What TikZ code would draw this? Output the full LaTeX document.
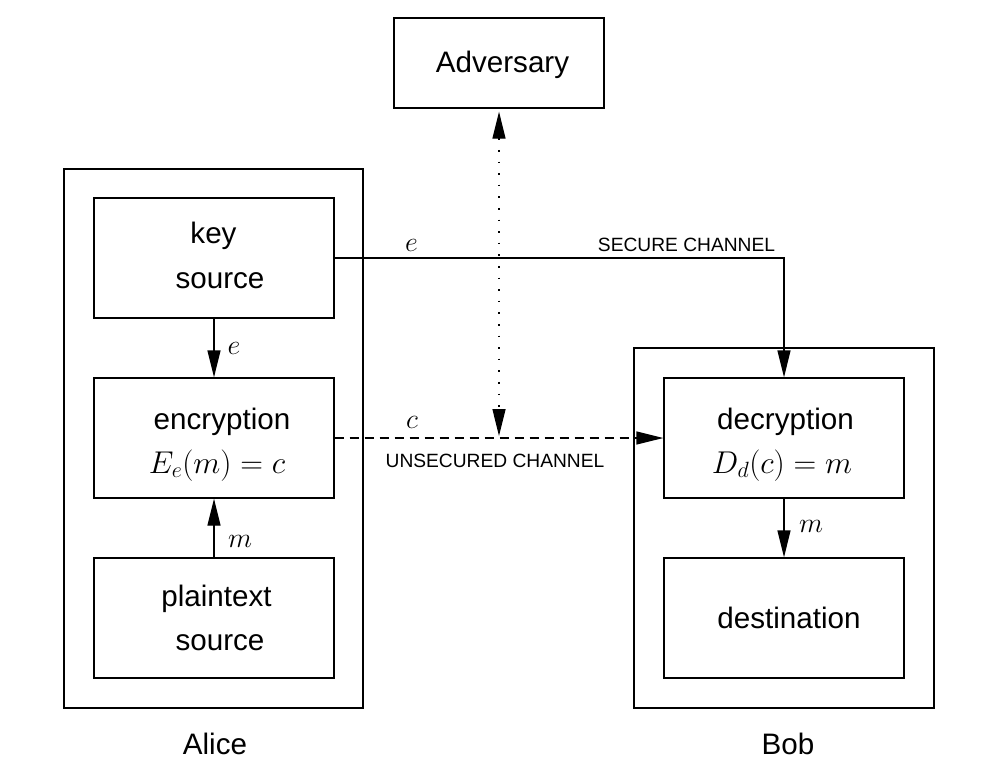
\RequirePackage{fix-cm}
\documentclass[tikz,border=0pt]{standalone}
\usepackage{fontspec}
\setmainfont{Liberation Sans}
\usetikzlibrary{arrows.meta}
\begin{document}
\begin{tikzpicture}[x=1pt,y=-1pt,
  box/.style={draw,line width=1.3pt,minimum width=240pt,minimum height=120pt,inner sep=0pt},
  outer/.style={draw,line width=1.3pt,inner sep=0pt},
  txt/.style={anchor=base,inner sep=0pt,font=\fontsize{29.6}{34}\selectfont},
  mtxt/.style={anchor=base,inner sep=0pt,font=\fontsize{31.5}{36}\selectfont},
  lbl/.style={anchor=base,inner sep=0pt,font=\fontsize{28}{34}\selectfont},
  small/.style={anchor=base,inner sep=0pt,font=\fontsize{19.2}{22}\selectfont},
  arr/.style={line width=1.3pt,-{Triangle[length=27pt,width=13pt]}},
  darr/.style={line width=1.3pt,{Triangle[length=27pt,width=13pt]}-{Triangle[length=27pt,width=13pt]}}
]
\useasboundingbox (0,0) rectangle (984,779);
% frames
\node[outer,minimum width=299pt,minimum height=539pt] (alice) at (213.5,438.5) {};
\node[outer,minimum width=300pt,minimum height=360pt] (bob) at (784,528) {};
\node[box,minimum width=210pt,minimum height=90pt] (adv) at (499,63) {};
\node[box] (key) at (214,258) {};
\node[box] (enc) at (214,438) {};
\node[box] (plain) at (214,618) {};
\node[box] (dec) at (784,438) {};
\node[box] (dest) at (784,618) {};
% box texts
\node[txt] (advt) at (502.5,72) {Adversary};
\node[txt] (keyt1) at (213.5,243) {key};
\node[txt] (keyt2) at (220,288) {source};
\node[txt] (enct1) at (222,429) {encryption};
\node[mtxt] (enct2) at (217,473) {$E_e(m)=c$};
\node[txt] (plaint1) at (216.5,606) {plaintext};
\node[txt] (plaint2) at (220,650) {source};
\node[txt] (dect1) at (785.5,429) {decryption};
\node[mtxt] (dect2) at (782,473) {$D_d(c)=m$};
\node[txt] (destt) at (789,628) {destination};
\node[txt] (alab) at (215,754) {Alice};
\node[txt] (blab) at (788,754) {Bob};
% connectors
\draw[arr] (key) -- (enc);
\draw[arr] (plain) -- (enc);
\draw[arr] (dec) -- (dest);
\draw[arr] (key.east) -| (dec.north);
\draw[arr,dash pattern=on 9pt off 6pt] (enc.east) -- (dec.west);
\coordinate (cross) at (enc.east -| adv.south);
\draw[darr,dash pattern=on 1.6pt off 10pt,shorten <=3pt,shorten >=2pt] (adv.south) -- (cross);
% labels
\node[lbl] (le1) at (234,354) {$e$};
\node[lbl] (lm1) at (240,547) {$m$};
\node[lbl] (lm2) at (811,532) {$m$};
\node[lbl] (le2) at (411.5,251) {$e$};
\node[lbl] (lc) at (412,428) {$c$};
\node[small] (sec) at (686.5,251) {SECURE CHANNEL};
\node[small] (unsec) at (495,467) {UNSECURED CHANNEL};
\end{tikzpicture}
\end{document}
